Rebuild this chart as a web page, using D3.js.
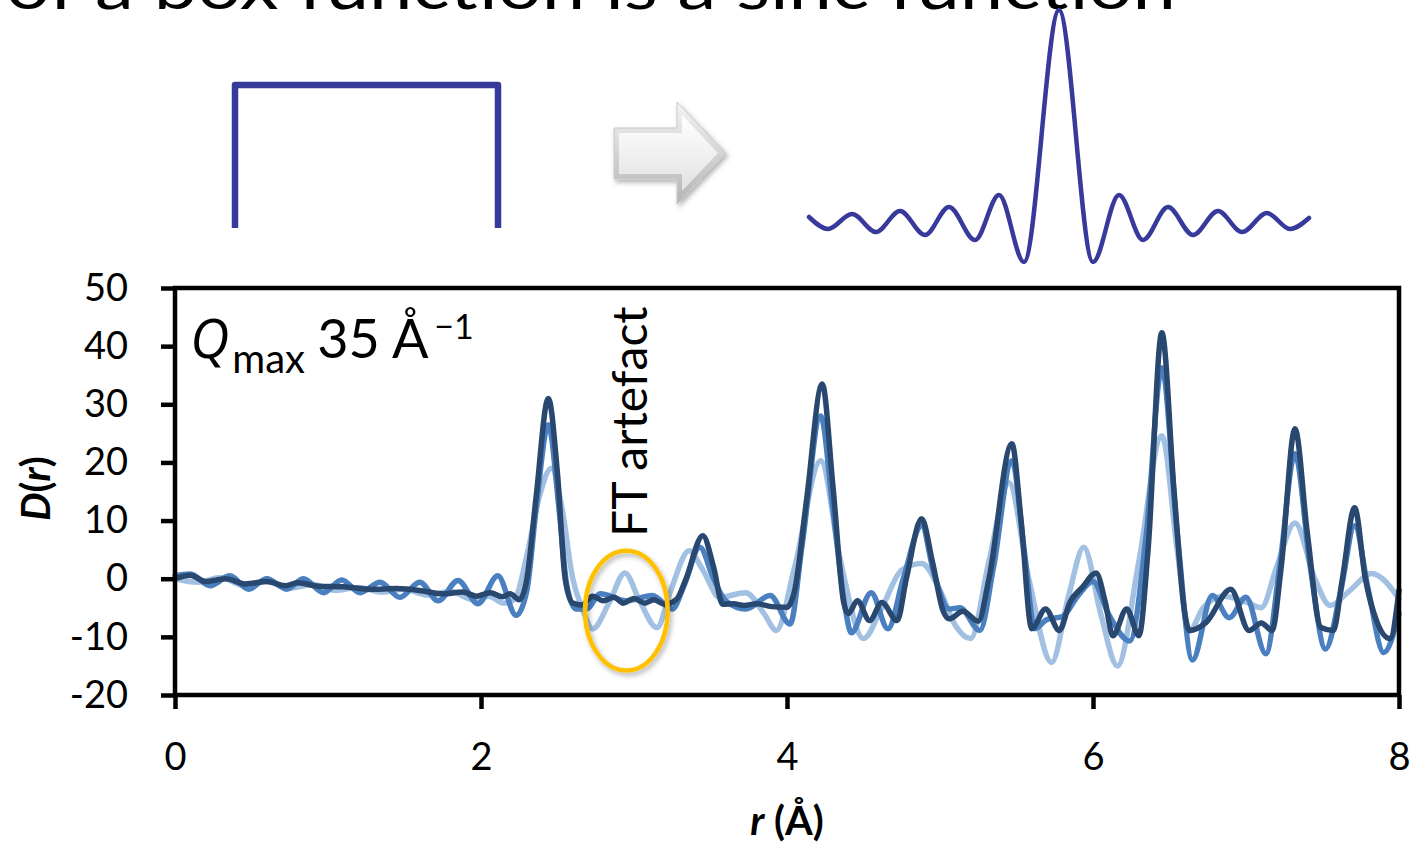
<!DOCTYPE html>
<html>
<head>
<meta charset="utf-8">
<script src="https://cdn.jsdelivr.net/npm/d3@7"></script>
<style>
  html, body { margin: 0; padding: 0; background: #ffffff; }
  svg { display: block; }
  text { font-family: "Lato", "Open Sans", "Noto Sans", sans-serif; fill: #000; }
</style>
</head>
<body>
<svg id="chart" width="1412" height="844"></svg>
<script>
// ---- Tick labels ----
const xTicks = [0, 2, 4, 6, 8];
const yTicks = [-20, -10, 0, 10, 20, 30, 40, 50];

// ---- D(r) traces, [r (Å), D(r)] ----
const dLight = [
  [0,0],[0.15,-0.6],[0.3,0.2],[0.45,-1.2],[0.6,-0.5],[0.75,-1.6],[0.9,-1],[1.05,-2],
  [1.2,-1.5],[1.35,-2.3],[1.5,-1.8],[1.65,-2.8],[1.8,-2.2],[1.95,-3.6],[2.05,-3],
  [2.15,-4.2],[2.22,-3.5],[2.3,4],[2.38,14],[2.46,19],[2.53,12],[2.6,0],[2.66,-5],
  [2.73,-8.6],[2.84,-4],[2.94,1],[3.04,-4],[3.15,-8.4],[3.24,-2],[3.36,4.8],[3.45,1.5],
  [3.56,-3.2],[3.73,-2.4],[3.85,-6],[3.93,-8.9],[4.05,2],[4.22,20.3],[4.35,3],
  [4.5,-10.3],[4.62,-5],[4.75,1.5],[4.88,2.6],[5.0,-2],[5.1,-8],[5.2,-10.3],[5.32,3],
  [5.45,16.5],[5.58,0],[5.73,-14.4],[5.84,-3],[5.94,5.4],[6.05,-6],[6.16,-15],[6.3,3],
  [6.45,24.6],[6.55,5],[6.63,-9],[6.72,-5],[6.85,-3],[7.0,-4],[7.1,-5],[7.2,2],
  [7.32,9.6],[7.45,0],[7.55,-4.6],[7.68,-2],[7.82,0.9],[8.0,-3.4]
];
const dMedium = [
  [0,0.5],[0.1,0.8],[0.23,-1.2],[0.36,0.5],[0.48,-1.8],[0.6,0],[0.73,-1.8],[0.84,0],
  [0.97,-2.4],[1.09,-0.2],[1.21,-2.4],[1.34,-0.6],[1.47,-3.2],[1.6,-0.6],[1.72,-3.8],
  [1.85,-0.3],[1.98,-4.3],[2.11,0.5],[2.23,-6.3],[2.3,-2],[2.36,12],[2.44,26.5],
  [2.51,12],[2.56,-1],[2.62,-5.2],[2.69,-5.2],[2.78,-2.6],[2.95,-3.8],[3.12,-2.9],
  [3.25,-5.2],[3.33,-1],[3.43,5.4],[3.52,0],[3.6,-3.8],[3.73,-5.2],[3.89,-2.9],
  [4.02,-7.8],[4.1,6],[4.22,28],[4.3,12],[4.38,-5],[4.42,-9.3],[4.55,-2.4],[4.66,-8.6],
  [4.76,0],[4.88,9.1],[4.96,1],[5.06,-5.2],[5.13,-5],[5.26,-8.9],[5.35,2],[5.47,20.3],
  [5.55,5],[5.62,-8.6],[5.7,-7],[5.8,-6.5],[5.9,-3],[6.0,-0.5],[6.1,-6],[6.24,-10.7],
  [6.35,8],[6.45,36.3],[6.55,8],[6.65,-14],[6.78,-2.9],[6.89,-6.7],[7.0,-3.2],
  [7.13,-12.9],[7.22,2],[7.32,21.5],[7.42,2],[7.52,-12.1],[7.62,-2],[7.71,9.1],
  [7.8,-2],[7.9,-12.7],[8.0,-6]
];
const dDark = [
  [0,0],[0.1,0.6],[0.2,-0.5],[0.33,0],[0.46,-0.9],[0.6,-0.5],[0.72,-1.2],[0.8,-0.7],
  [0.94,-1.3],[1.1,-1.4],[1.28,-1.8],[1.45,-1.7],[1.62,-2.1],[1.75,-2.6],[1.88,-2.3],
  [1.97,-3],[2.06,-2.4],[2.14,-3.1],[2.19,-2.6],[2.25,-3.6],[2.3,0],[2.36,14],[2.44,31],
  [2.5,18],[2.55,0],[2.6,-4.2],[2.66,-4.5],[2.73,-3.0],[2.8,-3.8],[2.87,-3.2],
  [2.93,-4.2],[3.0,-3.4],[3.07,-4.2],[3.13,-3.6],[3.2,-4.4],[3.28,-3.5],[3.34,0],
  [3.45,7.4],[3.52,2],[3.58,-4.4],[3.65,-4.3],[3.72,-4.6],[3.8,-4.3],[3.9,-4.8],
  [4.0,-4.9],[4.05,-2],[4.13,14],[4.23,33.5],[4.3,16],[4.37,-4],[4.4,-6],[4.46,-3.8],
  [4.54,-7.2],[4.62,-4.1],[4.72,-7.2],[4.78,0],[4.88,10.3],[4.95,3],[5.02,-5.5],
  [5.06,-6.9],[5.15,-5.6],[5.25,-7.3],[5.32,0],[5.47,23.2],[5.53,10],[5.6,-8.6],
  [5.69,-5.2],[5.78,-8.9],[5.85,-4],[5.93,-1.5],[6.02,1.0],[6.08,-4],[6.13,-9.8],
  [6.22,-5.2],[6.3,-9.8],[6.36,5],[6.45,42.3],[6.53,15],[6.6,-6],[6.63,-8.9],
  [6.74,-7.5],[6.9,-1.8],[7.02,-8.9],[7.1,-7.6],[7.17,-8.9],[7.23,2],[7.32,25.8],
  [7.4,8],[7.49,-8.4],[7.57,-8.9],[7.63,0],[7.71,12.2],[7.78,0],[7.85,-7],
  [7.94,-10.3],[8.0,-2]
];

// ---- Illustration above the plot: box function and its sinc transform ----
// box outline, page pixels
const boxOutline = [[235, 228], [235, 85], [498, 85], [498, 228]];
// sinc extrema as traced, page pixels
const sincKnots = [
  [809,217],[828,229],[852,214],[876,232],[900,211],[925,235],[949,207],[975,240],
  [999,195],[1024,262],[1059,10],[1093,262],[1119,195],[1143,240],[1168,207],
  [1193,235],[1218,211],[1242,232],[1267,213],[1290,229],[1309,218]
];

// ---- Annotation of the FT artefact (data units) ----
const artefact = { r: 2.95, d: -5.5, halfR: 0.27, halfD: 10.3 };

const colors = { light: "#a2c0e2", medium: "#4a7fc0", dark: "#284870", ink: "#37399b" };

const svg = d3.select("#chart");
svg.append("rect").attr("width", 1412).attr("height", 844).attr("fill", "#fff");

const defs = svg.append("defs");
const shadow = defs.append("filter").attr("id", "soft").attr("x", "-30%").attr("y", "-30%")
  .attr("width", "160%").attr("height", "160%");
shadow.append("feDropShadow").attr("dx", 2).attr("dy", 3).attr("stdDeviation", 2.5)
  .attr("flood-color", "#000").attr("flood-opacity", 0.3);

const outerGrad = defs.append("linearGradient").attr("id", "arrowOuter")
  .attr("x1", 0).attr("y1", 0).attr("x2", 0).attr("y2", 1);
outerGrad.append("stop").attr("offset", "0%").attr("stop-color", "#f4f4f4");
outerGrad.append("stop").attr("offset", "100%").attr("stop-color", "#b4b4b4");
const innerGrad = defs.append("linearGradient").attr("id", "arrowInner")
  .attr("x1", 0).attr("y1", 0).attr("x2", 0).attr("y2", 1);
innerGrad.append("stop").attr("offset", "0%").attr("stop-color", "#ffffff");
innerGrad.append("stop").attr("offset", "100%").attr("stop-color", "#e2e2e2");

// Title line (runs off the top edge of the page)
svg.append("text")
  .attr("x", 6).attr("y", 9)
  .attr("font-size", 62)
  .attr("textLength", 1170).attr("lengthAdjust", "spacingAndGlyphs")
  .text("of a box function is a sinc function");

// Box function
svg.append("path")
  .attr("d", d3.line()(boxOutline))
  .attr("fill", "none").attr("stroke", colors.ink).attr("stroke-width", 6.5)
  .attr("stroke-linejoin", "round");

// Arrow
const arrowOuter = [[614,128],[677,128],[677,102],[726,153],[677,204],[677,179],[614,179]];
const arrowInner = [[619,133],[682,133],[682,115],[718,153],[682,191],[682,174],[619,174]];
svg.append("path").attr("d", d3.line()(arrowOuter) + "Z")
  .attr("fill", "url(#arrowOuter)").attr("stroke", "#c8c8c8").attr("stroke-width", 1)
  .attr("filter", "url(#soft)");
svg.append("path").attr("d", d3.line()(arrowInner) + "Z")
  .attr("fill", "url(#arrowInner)");

// Sinc function
svg.append("path")
  .attr("d", d3.line().curve(d3.curveMonotoneX)(sincKnots))
  .attr("fill", "none").attr("stroke", colors.ink).attr("stroke-width", 4.5)
  .attr("stroke-linecap", "round");

// ---- Plot ----
const x = d3.scaleLinear().domain([0, 8]).range([175, 1399]);
const y = d3.scaleLinear().domain([-20, 50]).range([695, 288]);

const line = d3.line().x(d => x(d[0])).y(d => y(d[1])).curve(d3.curveMonotoneX);

const traces = [
  { data: dLight, color: colors.light },
  { data: dMedium, color: colors.medium },
  { data: dDark, color: colors.dark }
];
svg.append("g").selectAll("path").data(traces).join("path")
  .attr("d", d => line(d.data))
  .attr("fill", "none")
  .attr("stroke", d => d.color)
  .attr("stroke-width", 5.5)
  .attr("stroke-linejoin", "round")
  .attr("stroke-linecap", "round");

// Frame
svg.append("rect")
  .attr("x", x(0)).attr("y", y(50))
  .attr("width", x(8) - x(0)).attr("height", y(-20) - y(50))
  .attr("fill", "none").attr("stroke", "#000").attr("stroke-width", 4.5);

// Axes (plain hyphen for negative labels)
const plain = d => String(d);
const yAxis = svg.append("g").attr("transform", `translate(${x(0)},0)`)
  .call(d3.axisLeft(y).tickValues(yTicks).tickSize(14).tickSizeOuter(0).tickPadding(33)
    .tickFormat(plain));
const xAxis = svg.append("g").attr("transform", `translate(0,${y(-20)})`)
  .call(d3.axisBottom(x).tickValues(xTicks).tickSize(14).tickSizeOuter(0).tickPadding(34)
    .tickFormat(plain));
[yAxis, xAxis].forEach(g => {
  g.select(".domain").remove();
  g.selectAll(".tick line").attr("stroke", "#000").attr("stroke-width", 4.5);
  g.selectAll(".tick text").attr("font-size", 38).attr("fill", "#000")
    .style("font-family", "Lato, 'Open Sans', sans-serif");
});

// Axis titles
const yTitle = svg.append("text")
  .attr("transform", `translate(50,${(y(50) + y(-20)) / 2 - 3}) rotate(-90)`)
  .attr("text-anchor", "middle").attr("font-size", 40).attr("font-weight", "bold");
yTitle.append("tspan").attr("font-style", "italic").text("D");
yTitle.append("tspan").text("(");
yTitle.append("tspan").attr("font-style", "italic").text("r");
yTitle.append("tspan").text(")");

const xTitle = svg.append("text")
  .attr("x", (x(0) + x(8)) / 2).attr("y", 835)
  .attr("text-anchor", "middle").attr("font-size", 40).attr("font-weight", "bold");
xTitle.append("tspan").attr("font-style", "italic").text("r");
xTitle.append("tspan").text(" (Å)");

// Q_max label
const qx = x(0.1), qy = y(38);
const q = svg.append("text").attr("x", qx).attr("y", qy).attr("font-size", 54);
q.append("tspan").attr("font-style", "italic")
  .style("font-family", "'Open Sans', 'Noto Sans', sans-serif").text("Q");
q.append("tspan").attr("font-size", 40).attr("x", qx + 42).attr("y", qy + 15).text("max");
q.append("tspan").attr("x", qx + 127).attr("y", qy).text("35 Å");
q.append("tspan").attr("font-size", 34).attr("x", qx + 244).attr("y", qy - 19).text("−1");

// FT artefact annotation
svg.append("ellipse")
  .attr("cx", x(artefact.r)).attr("cy", y(artefact.d))
  .attr("rx", x(artefact.r + artefact.halfR) - x(artefact.r))
  .attr("ry", y(artefact.d - artefact.halfD) - y(artefact.d))
  .attr("fill", "none").attr("stroke", "#ffc000").attr("stroke-width", 4.5)
  .attr("filter", "url(#soft)");

svg.append("text")
  .attr("transform", `translate(${x(artefact.r) + 21},537) rotate(-90)`)
  .attr("font-size", 48)
  .text("FT artefact");
</script>
</body>
</html>
